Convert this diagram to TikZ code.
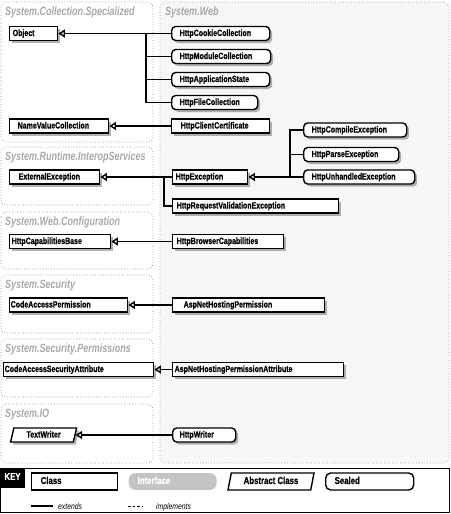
\documentclass[tikz,border=0pt]{standalone}
\usepackage{fontspec}
\newfontfamily\cfam[FakeStretch=0.8]{Liberation Sans}
\newfontfamily\bfam[FakeStretch=0.78,FakeBold=0.5]{Liberation Sans Bold}
\newfontfamily\tfam[FakeStretch=0.75]{Liberation Sans}
\usetikzlibrary{arrows.meta,shapes.geometric,shadows}
\definecolor{ttl}{HTML}{A8A8A8}
\definecolor{pbd}{HTML}{8C8C8C}
\definecolor{pfill}{HTML}{F6F6F6}
\definecolor{ifc}{HTML}{C4C4C4}
\begin{document}
\begin{tikzpicture}[x=1pt,y=-1pt,
 panel/.style={draw=pbd, dotted, line width=0.7pt, rounded corners=5pt},
 ptitle/.style={anchor=base west, inner sep=0pt, text=ttl, font=\tfam\bfseries\itshape\fontsize{12}{12}\selectfont},
 shd/.style={drop shadow={shadow xshift=2.5pt, shadow yshift=-2.5pt, fill=black!55, opacity=0.55}},
 base/.style={draw, fill=white, line width=1.4pt, inner xsep=0pt, inner ysep=0pt, minimum height=14pt, text height=7pt, text depth=2pt, align=left, anchor=west, font=\bfam\fontsize{9}{9}\selectfont},
 cls/.style={base, shd, text width=#1},
 sld/.style={base, shd, rounded corners=4pt, text width=#1},
 abst/.style={base, shd, trapezium, trapezium left angle=70, trapezium right angle=110, trapezium stretches body, minimum width=#1, align=center},
 kbase/.style={base, minimum height=17pt, font=\bfam\fontsize{10}{10}\selectfont},
 ln/.style={line width=1.4pt},
 ext/.style={line width=1.4pt, -{Triangle[open, length=6.5pt, width=8pt]}},
 ktext/.style={anchor=base west, inner sep=0pt, font=\cfam\itshape\fontsize{8.5}{8.5}\selectfont}
]
\useasboundingbox (0,0) rectangle (450,514);
% panels
\draw[panel, fill=pfill] (160,2) rectangle (449,463);
\draw[panel] (1,2) rectangle (153,142);
\draw[panel] (1,147) rectangle (153,205);
\draw[panel] (1,212) rectangle (153,269);
\draw[panel] (1,275) rectangle (153,333);
\draw[panel] (1,339) rectangle (153,397);
\draw[panel] (1,404) rectangle (153,463);
\node[ptitle] (t0) at (165,15.5) {System.Web};
\node[ptitle] (t1) at (5,15.5) {System.Collection.Specialized};
\node[ptitle] (t2) at (5,160.5) {System.Runtime.InteropServices};
\node[ptitle] (t3) at (5,225.5) {System.Web.Configuration};
\node[ptitle] (t4) at (5,288.5) {System.Security};
\node[ptitle] (t5) at (5,352.5) {System.Security.Permissions};
\node[ptitle] (t6) at (5,417.5) {System.IO};
% nodes
\node[cls=48pt] (object) at (9,33.5) {\hspace*{3pt}Object};
\node[sld=98pt] (cookie) at (171,33.5) {\hspace*{8pt}HttpCookieCollection};
\node[sld=99pt] (module) at (171,56.5) {\hspace*{8pt}HttpModuleCollection};
\node[sld=98pt] (appstate) at (171,79.5) {\hspace*{8pt}HttpApplicationState};
\node[sld=86pt] (filecol) at (171,102.5) {\hspace*{8pt}HttpFileCollection};
\node[cls=98pt] (clientcert) at (171,126) {\hspace*{9pt}HttpClientCertificate};
\node[cls=99pt] (namevalue) at (9,126) {\hspace*{8pt}NameValueCollection};
\node[sld=103pt] (compile) at (303,130) {\hspace*{8pt}HttpCompileException};
\node[sld=95pt] (parse) at (303,154.5) {\hspace*{8pt}HttpParseException};
\node[sld=111pt] (unhandled) at (303,177) {\hspace*{8pt}HttpUnhandledException};
\node[cls=75pt] (httpexc) at (172,177) {\hspace*{3pt}HttpException};
\node[cls=90pt] (external) at (9,177) {\hspace*{9pt}ExternalException};
\node[cls=166pt] (reqval) at (172,206) {\hspace*{4pt}HttpRequestValidationException};
\node[cls=101pt] (capbase) at (9,241.5) {\hspace*{2pt}HttpCapabilitiesBase};
\node[cls=111pt] (browser) at (172,241.5) {\hspace*{4pt}HttpBrowserCapabilities};
\node[cls=118pt] (cap) at (9,305) {\hspace*{1pt}CodeAccessPermission};
\node[cls=152pt] (anhp) at (172,305) {\hspace*{11pt}AspNetHostingPermission};
\node[cls=150pt] (casa) at (3,369.5) {\hspace*{1pt}CodeAccessSecurityAttribute};
\node[cls=171pt] (anhpa) at (172,369.5) {\hspace*{2pt}AspNetHostingPermissionAttribute};
\node[abst=66pt] (textwriter) at (11.5,435) {TextWriter};
\node[sld=63pt] (httpwriter) at (172,435) {\hspace*{7pt}HttpWriter};
% connectors
\coordinate (b1) at (146,33.5);
\coordinate (b2) at (290,177);
\coordinate (b3) at (164,177);
\draw[ext] (cookie.west) -- (object.east);
\draw[ln] (module.west) -| (b1);
\draw[ln] (appstate.west) -| (b1);
\draw[ln] (filecol.west) -| (b1);
\draw[ext] (clientcert.west) -- (namevalue.east);
\draw[ext] (unhandled.west) -- (httpexc.east);
\draw[ln] (compile.west) -| (b2);
\draw[ln] (parse.west) -| (b2);
\draw[ext] (httpexc.west) -- (external.east);
\draw[ln] (reqval.west) -| (b3);
\draw[ext] (browser.west) -- (capbase.east);
\draw[ext] (anhp.west) -- (cap.east);
\draw[ext] (anhpa.west) -- (casa.east);
\draw[ext] (httpwriter.west) -- (textwriter.east);
% key
\draw[line width=0.8pt] (0.4,468) rectangle (449.4,512);
\fill (0,468) rectangle (25,488);
\node[text=white, inner sep=0pt, font=\bfam\fontsize{10}{10}\selectfont] (key) at (12.5,476.5) {KEY};
\node[kbase, text width=86pt] (kclass) at (31,481.5) {\hspace*{9pt}Class};
\node[kbase, draw=none, fill=ifc, rounded corners=7pt, text=white, text width=88pt] (kint) at (128,481.5) {\hspace*{9pt}Interface};
\node[kbase, trapezium, trapezium left angle=70, trapezium right angle=110, trapezium stretches body, minimum width=86pt, align=center, anchor=center] (kabs) at (271,481.5) {Abstract Class};
\node[kbase, rounded corners=5pt, text width=88pt] (ksealed) at (325,481.5) {\hspace*{9pt}Sealed};
\coordinate (e1) at (31,506); \coordinate (e2) at (53,506);
\coordinate (i1) at (128,506); \coordinate (i2) at (143,506);
\draw[line width=1.4pt] (e1) -- (e2);
\draw[line width=0.7pt, dash pattern=on 2.5pt off 2pt] (i1) -- (i2);
\node[ktext] (lext) at (58,509) {extends};
\node[ktext] (limp) at (156,509) {implements};
\end{tikzpicture}
\end{document}
